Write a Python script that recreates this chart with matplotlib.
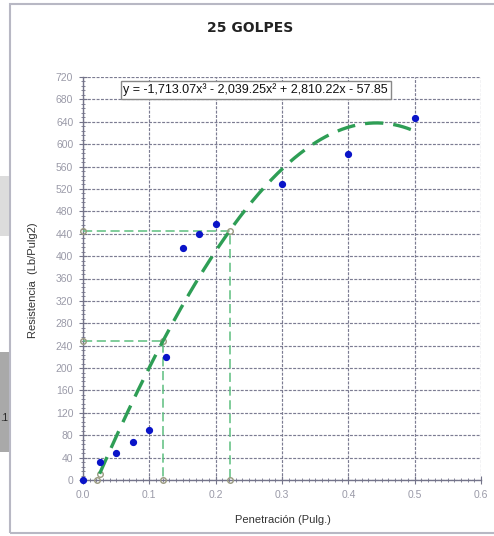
import numpy as np
import matplotlib
matplotlib.use("Agg")
import matplotlib.pyplot as plt
from matplotlib.ticker import MultipleLocator
from matplotlib.patches import Rectangle

# Penetration test, 25 blows
penetracion = [0.0, 0.025, 0.05, 0.075, 0.1, 0.125, 0.15, 0.175, 0.2, 0.3, 0.4, 0.5]
resistencia = [0, 32, 48, 68, 89, 220, 415, 440, 458, 528, 582, 647]

# Cubic trend line coefficients (highest power first)
coef = [-1713.07, -2039.25, 2810.22, -57.85]
ecuacion = "y = -1,713.07x³ - 2,039.25x² + 2,810.22x - 57.85"

titulo = "25 GOLPES"
xlabel = "Penetración (Pulg.)"
ylabel = "Resistencia  (Lb/Pulg2)"
xticks = [0.0, 0.1, 0.2, 0.3, 0.4, 0.5, 0.6]
yticks = list(range(0, 721, 40))

poly = np.poly1d(coef)
# corrected origin: root of the trend line near zero
roots = [r.real for r in poly.r if abs(r.imag) < 1e-9 and 0 < r.real < 0.1]
x0 = roots[0]
x_a, x_b = x0 + 0.1, x0 + 0.2
y_a, y_b = poly(x_a), poly(x_b)

fig = plt.figure(figsize=(4.94, 5.36), dpi=100)
fig.patch.set_facecolor("white")

# outer frame and side strips
fig.add_artist(Rectangle((10/494, 1-533/536), 1.2, (533-4)/536, transform=fig.transFigure,
                         fill=False, edgecolor="#b8b8c4", linewidth=1.5))
fig.add_artist(Rectangle((0, 1-236/536), 9/494, 60/536, transform=fig.transFigure,
                         facecolor="#dcdcdc", edgecolor="none"))
fig.add_artist(Rectangle((0, 1-452/536), 9/494, 100/536, transform=fig.transFigure,
                         facecolor="#a9a9a9", edgecolor="none"))
fig.text(0/494, 1-418/536, ".1", fontsize=7, color="#222222", va="center", ha="left",
         family="Liberation Sans")

ax = fig.add_axes([83/494, 1-480/536, (481-83)/494, (480-77)/536])
ax.set_xlim(0, 0.6)
ax.set_ylim(0, 720)

ax.xaxis.set_major_locator(MultipleLocator(0.1))
ax.xaxis.set_minor_locator(MultipleLocator(0.01))
ax.yaxis.set_major_locator(MultipleLocator(40))
ax.yaxis.set_minor_locator(MultipleLocator(8))
ax.set_xticks(xticks)
ax.set_xticklabels([f"{t:.1f}" for t in xticks])
ax.set_yticks(yticks)
ax.set_yticklabels([str(t) for t in yticks])

ax.grid(True, which="major", color="#7c7c92", linestyle=(0, (2.5, 1.2)), linewidth=0.85)
for s in ["top", "right"]:
    ax.spines[s].set_visible(False)
for s in ["left", "bottom"]:
    ax.spines[s].set_color("#74748a")
    ax.spines[s].set_linewidth(1.0)
ax.tick_params(which="major", direction="inout", length=6, color="#74748a",
               labelsize=7.5, labelcolor="#9a9aa8", pad=4)
ax.tick_params(which="minor", direction="inout", length=3, color="#74748a")
for lab in ax.get_xticklabels() + ax.get_yticklabels():
    lab.set_family("Liberation Sans")

# guide lines from the trend line
gc = "#5cbf7e"
ax.plot([0, x_a, x_a], [y_a, y_a, 0], color=gc, linestyle=(0, (6, 3)), linewidth=1.1, zorder=3)
ax.plot([0, x_b, x_b], [y_b, y_b, 0], color=gc, linestyle=(0, (6, 3)), linewidth=1.1, zorder=3)
ax.plot([0, x_a, x_a, 0, x_b, x_b, x0, 0.025], [y_a, y_a, 0, y_b, y_b, 0, 0, poly(0.025)],
        linestyle="none", marker="o", markersize=4, markerfacecolor="none",
        markeredgecolor="#9a9a80", markeredgewidth=1.0, zorder=4, clip_on=False)

# trend line
xs = np.linspace(0.025, 0.5, 300)
ax.plot(xs, poly(xs), color="#2e9e55", linestyle=(0, (5.5, 3)), linewidth=2.4, zorder=4)

# measured points
ax.plot(penetracion, resistencia, linestyle="none", marker="o", markersize=4.2,
        color="#0a14c8", zorder=5, clip_on=False)

ax.text(0.061, 697, ecuacion, fontsize=9, family="Liberation Sans", color="#111111",
        va="center", ha="left",
        bbox=dict(boxstyle="square,pad=0.2", facecolor="white", edgecolor="#888888", linewidth=1))

fig.text(250/494, 1-28/536, titulo, fontsize=10, fontweight="bold", ha="center", va="center",
         color="#222222", family="DejaVu Sans")
fig.text(283/494, 1-520/536, xlabel, fontsize=8, ha="center", va="center", color="#333333",
         family="Liberation Sans")
fig.text(33/494, 1-280/536, ylabel, fontsize=8, ha="center", va="center", rotation=90,
         color="#333333", family="Liberation Sans")

fig.savefig("out.png", dpi=100, facecolor="white")
